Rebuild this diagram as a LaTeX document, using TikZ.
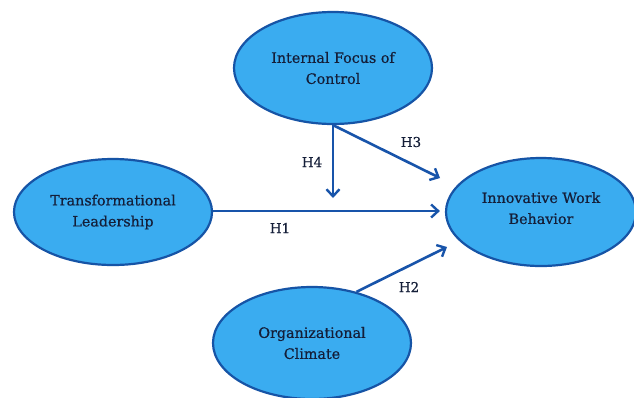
\documentclass[tikz,border=0pt]{standalone}
\usepackage{fontspec}
\setmainfont{DejaVu Serif}
\newfontfamily\lblfont[BoldFont={DejaVu Serif},BoldFeatures={FakeBold=0.6}]{DejaVu Serif}
\usetikzlibrary{shapes.geometric,arrows.meta}
\definecolor{fillblue}{RGB}{58,172,240}
\definecolor{edgeblue}{RGB}{22,84,166}
\definecolor{arrowblue}{RGB}{24,84,170}
\definecolor{txt}{RGB}{20,30,56}
\tikzset{
  var/.style={ellipse, draw=edgeblue, line width=2.2pt, fill=fillblue, inner sep=0pt,
    minimum width=198pt, minimum height=112pt, align=center, text=txt,
    font=\lblfont\bfseries\fontsize{14.3}{21}\selectfont},
  link/.style={draw=arrowblue, line width=2.6pt, -{Straight Barb[length=7pt,width=13pt,line width=2.4pt]}},
  hlab/.style={text=txt, font=\lblfont\bfseries\fontsize{13.5}{15}\selectfont}
}
\begin{document}
\begin{tikzpicture}[x=1pt,y=-1pt]
\useasboundingbox (0,0) rectangle (634,397);
\fill[white] (0,0) rectangle (634,397);
\node[var] (ifc) at (333,68) {Internal Focus of\\Control};
\node[var, minimum height=106pt] (tl) at (113,212) {Transformational\\Leadership};
\node[var, minimum width=190pt, minimum height=108pt] (iwb) at (541,212) {Innovative Work\\Behavior\\[-13pt]};
\node[var] (oc) at (312,343) {Organizational\\Climate};
\coordinate (h4end) at (333,198);
\coordinate (h3end) at (440,178);
\coordinate (h2end) at (447,247);
\draw[link] (tl.east |- 0,211) -- (iwb.west |- 0,211) [shorten >=5pt];
\draw[link] (ifc.south) -- (h4end);
\draw[link] (ifc.south) -- (h3end);
\draw[link] (oc.49) -- (h2end);
\node[hlab] (l4) at (312,162) {H4};
\node[hlab] (l3) at (411,142) {H3};
\node[hlab] (l1) at (280,228) {H1};
\node[hlab] (l2) at (409,287) {H2};
\end{tikzpicture}
\end{document}
